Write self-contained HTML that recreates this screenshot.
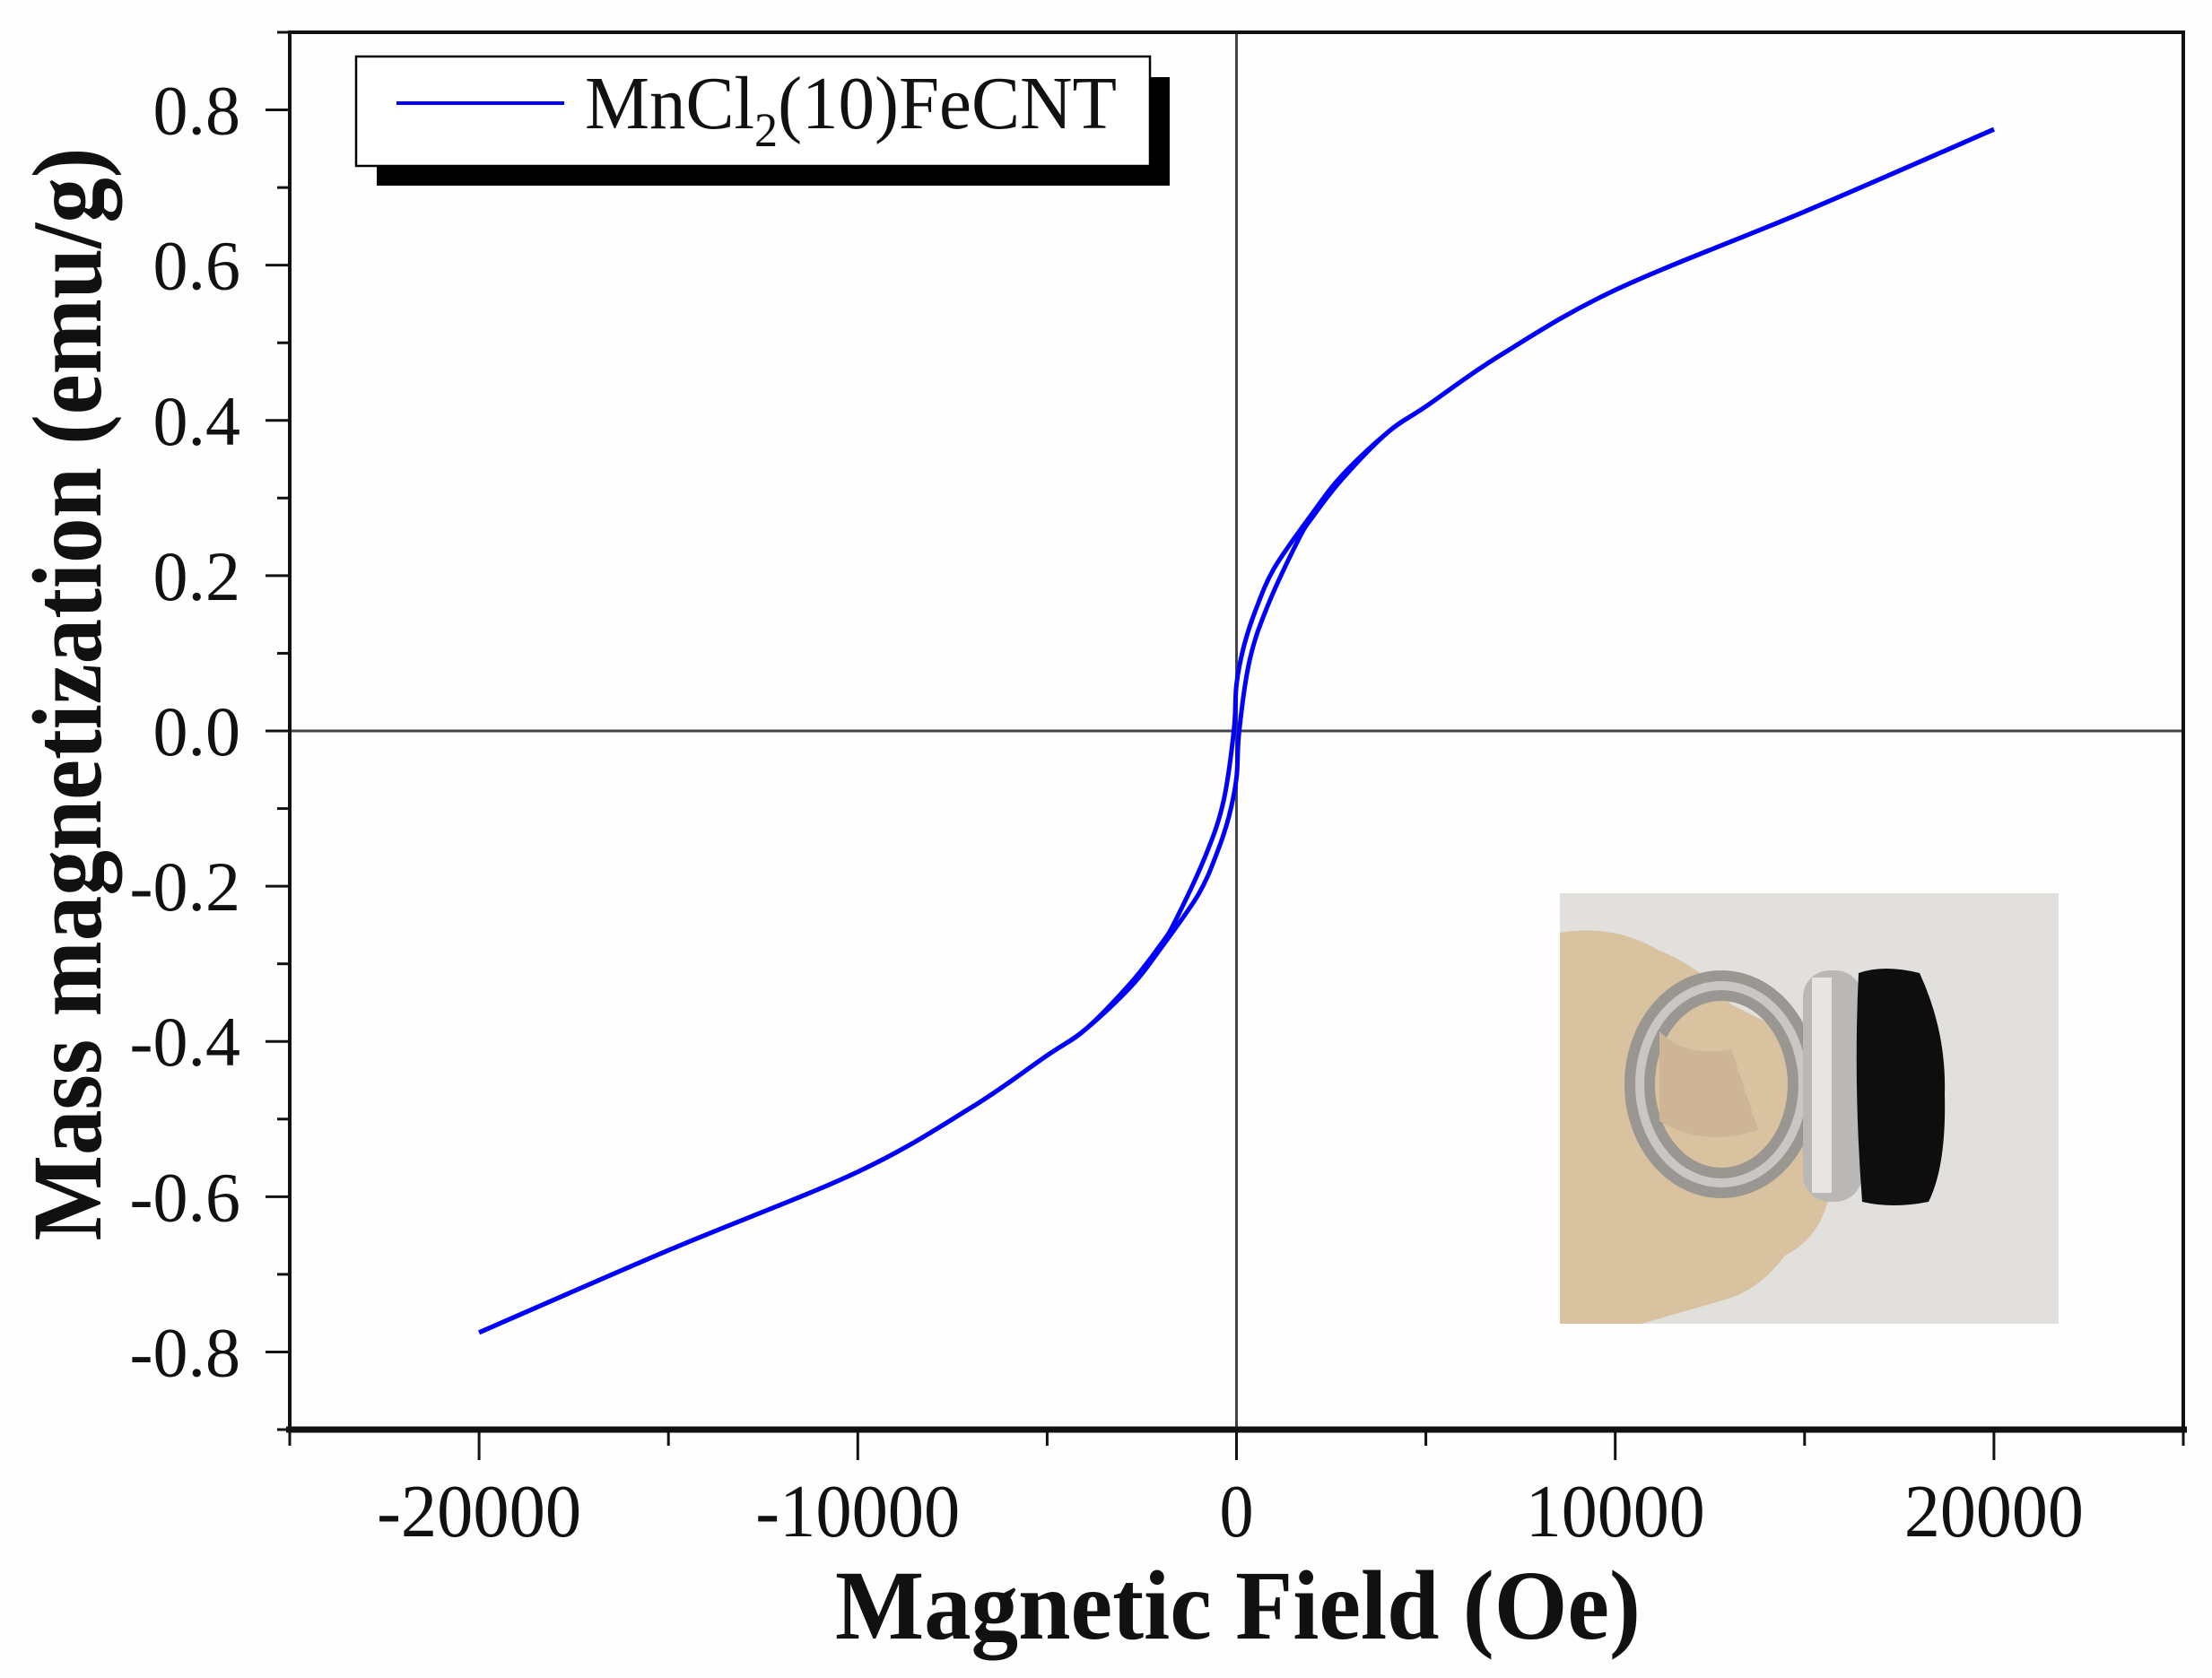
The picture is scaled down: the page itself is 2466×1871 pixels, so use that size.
<!DOCTYPE html>
<html><head><meta charset="utf-8"><style>
html,body{margin:0;padding:0;background:#fefefe;}
svg{display:block;font-family:"Liberation Serif",serif;}
</style></head><body>
<svg id="chart" width="2466" height="1871" viewBox="0 0 2466 1871" xmlns="http://www.w3.org/2000/svg">
<rect x="0" y="0" width="2466" height="1871" fill="#fefefe"/>
<g id="inset">
 <rect x="1739" y="996" width="556" height="480" fill="#e2e0dc"/>
 <path d="M1739 1040 Q1800 1030 1850 1060 Q1900 1080 1930 1120 L2010 1160 L2040 1330 Q2030 1380 1990 1400 Q1960 1440 1920 1450 L1830 1476 L1739 1476 Z" fill="#d8c2a0"/>
 <ellipse cx="1919" cy="1209" rx="91" ry="110" fill="none" stroke="#9a9792" stroke-width="34"/>
 <ellipse cx="1919" cy="1209" rx="91" ry="110" fill="none" stroke="#c9c7c3" stroke-width="10"/>
 <path d="M1850 1150 Q1880 1180 1930 1170 L1960 1260 Q1900 1280 1850 1250 Z" fill="#cdb595"/>
 <rect x="2010" y="1082" width="66" height="258" rx="30" fill="#b9b8b6"/>
 <rect x="2020" y="1090" width="22" height="240" fill="#e6e5e3"/>
 <path d="M2072 1085 Q2100 1075 2140 1085 Q2170 1150 2168 1220 Q2170 1300 2150 1340 Q2110 1348 2076 1340 Q2066 1210 2072 1085 Z" fill="#0e0e0e"/>
</g>
<g id="axes"></g>
<g id="series"></g>
<g id="legend">
 <rect x="420" y="86" width="884" height="121" fill="#000"/>
 <rect x="397" y="63" width="885" height="122" fill="#fff" stroke="#000" stroke-width="2.5"/>
 <line x1="442" y1="115" x2="629" y2="115" stroke="#0000ff" stroke-width="4"/>
 <text x="652" y="143" font-size="84" textLength="593" lengthAdjust="spacingAndGlyphs" fill="#111">MnCl<tspan font-size="54" dy="20">2</tspan><tspan dy="-20">(10)FeCNT</tspan></text>
</g>
<text x="1380" y="1827" font-size="110" font-weight="bold" text-anchor="middle" textLength="898" lengthAdjust="spacingAndGlyphs" fill="#111">Magnetic Field (Oe)</text>
<text transform="translate(112,774) rotate(-90)" x="0" y="0" font-size="110" font-weight="bold" text-anchor="middle" textLength="1219" lengthAdjust="spacingAndGlyphs" fill="#111">Mass magnetization (emu/g)</text>
</svg>
<script>
const xTicks = [-20000, -10000, 0, 10000, 20000];
const xTickLabels = ["-20000", "-10000", "0", "10000", "20000"];
const yTicks = [-0.8, -0.6, -0.4, -0.2, 0.0, 0.2, 0.4, 0.6, 0.8];
const yTickLabels = ["-0.8", "-0.6", "-0.4", "-0.2", "0.0", "0.2", "0.4", "0.6", "0.8"];
// ascending branch
const fieldUp = [-20000, -15000, -10000, -7000, -5000, -4000, -2800, -2000, -1000, -500, -200, 0, 70, 350, 830, 1620, 2000, 2800, 4000, 5000, 7000, 10000, 15000, 20000];
const momentUp = [-0.775, -0.669, -0.568, -0.485, -0.418, -0.385, -0.33, -0.28, -0.21, -0.155, -0.11, -0.06, 0, 0.092, 0.162, 0.245, 0.275, 0.325, 0.385, 0.418, 0.485, 0.568, 0.669, 0.775];
// descending branch
const fieldDown = [20000, 15000, 10000, 7000, 5000, 4000, 2800, 2000, 1000, 500, 200, 0, -70, -350, -830, -1620, -2000, -2800, -4000, -5000, -7000, -10000, -15000, -20000];
const momentDown = [0.775, 0.669, 0.568, 0.485, 0.418, 0.385, 0.33, 0.28, 0.21, 0.155, 0.11, 0.06, 0, -0.092, -0.162, -0.245, -0.275, -0.325, -0.385, -0.418, -0.485, -0.568, -0.669, -0.775];

const L=323, R=2434, T=36, B=1594;
const xMin=-25000, xMax=25000, yMin=-0.9, yMax=0.9;
function sx(v){return L+(v-xMin)/(xMax-xMin)*(R-L);}
function sy(v){return B-(v-yMin)/(yMax-yMin)*(B-T);}
const NS="http://www.w3.org/2000/svg";
function mk(tag,attrs,parent){const e=document.createElementNS(NS,tag);for(const k in attrs)e.setAttribute(k,attrs[k]);parent.appendChild(e);return e;}
const ax=document.getElementById('axes');

let zl=mk('line',{x1:L,y1:sy(0),x2:R,y2:sy(0),stroke:'#444',"stroke-width":3},ax);


let zv=mk('line',{x1:sx(0),y1:T,x2:sx(0),y2:B,stroke:'#444',"stroke-width":3},ax);



let frame=mk('rect',{x:L,y:T,width:R-L,height:B-T,fill:'none',stroke:'#111',"stroke-width":4},ax);


let bx=mk('line',{x1:L-4,y1:B,x2:R+4,y2:B,stroke:'#111',"stroke-width":7},ax);



for(let v=-25000; v<=25000; v+=5000){
  const major = xTicks.indexOf(v)>=0;
  const t=mk('line',{x1:sx(v),y1:B,x2:sx(v),y2:major?B+34:B+18,stroke:'#111',"stroke-width":3},ax);
  
  
}
xTicks.forEach((v,i)=>{
  const n=xTickLabels[i].length;
  const t=mk('text',{x:sx(v),y:1713,"font-size":84,"text-anchor":"middle",fill:'#111',textLength:(n===6?228:(n===5?200:38)),lengthAdjust:'spacingAndGlyphs'},ax);
  t.textContent=xTickLabels[i];
  
  
});
for(let k=-9;k<=9;k++){
  const v=k/10;
  const major = (k%2===0) && Math.abs(k)<=8;
  const t=mk('line',{x1:L,y1:sy(v),x2:major?L-27:L-14,y2:sy(v),stroke:'#111',"stroke-width":3},ax);
  
  
}
yTicks.forEach((v,i)=>{
  const t=mk('text',{x:268,y:sy(v)+27,"font-size":78,"text-anchor":"end",fill:'#111'},ax);
  t.textContent=yTickLabels[i];
  
  
});

function smooth(xs,ys){
  const p=xs.map((x,i)=>[sx(x),sy(ys[i])]);
  let d='M'+p[0][0].toFixed(1)+' '+p[0][1].toFixed(1);
  for(let i=0;i<p.length-1;i++){
    const p0=p[Math.max(0,i-1)],p1=p[i],p2=p[i+1],p3=p[Math.min(p.length-1,i+2)];
    const c1=[p1[0]+(p2[0]-p0[0])/6,p1[1]+(p2[1]-p0[1])/6];
    const c2=[p2[0]-(p3[0]-p1[0])/6,p2[1]-(p3[1]-p1[1])/6];
    d+=' C'+c1[0].toFixed(1)+' '+c1[1].toFixed(1)+' '+c2[0].toFixed(1)+' '+c2[1].toFixed(1)+' '+p2[0].toFixed(1)+' '+p2[1].toFixed(1);
  }
  return d;
}
const sg=document.getElementById('series');
const up=mk('path',{d:smooth(fieldUp,momentUp),fill:'none',stroke:'#0000ff',"stroke-width":5,"stroke-linejoin":"round"},sg);


const dn=mk('path',{d:smooth(fieldDown,momentDown),fill:'none',stroke:'#0000ff',"stroke-width":5,"stroke-linejoin":"round"},sg);


</script>
</body></html>
